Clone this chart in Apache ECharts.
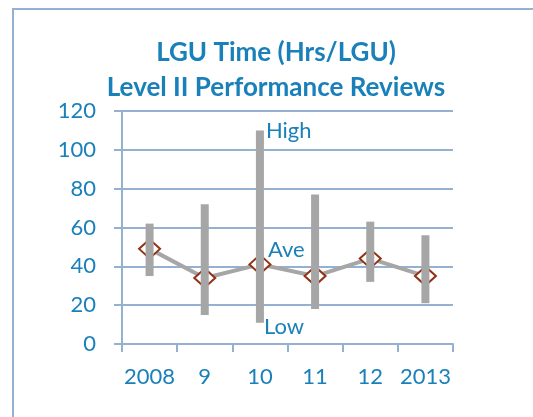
<!DOCTYPE html>
<html>
  <head>
    <meta charset="utf-8">
    <title>LGU Time</title>
    <style>
      html, body { margin: 0; padding: 0; background: #fff; }
      #main { width: 533px; height: 417px; }
    </style>
    <script src="https://cdn.jsdelivr.net/npm/echarts@6/dist/echarts.min.js"></script>
  </head>
  <body>
    <div id="main"></div>
    <script type="text/javascript">
      // data
      var years = ['2008', '9', '10', '11', '12', '2013'];
      var highs = [62, 72, 110, 77, 63, 56];
      var lows = [35, 15, 11, 18, 32, 21];
      var aves = [49, 34, 41, 35, 44, 35];
      var yTicks = [0, 120, 20]; // min, max, step

      var blue = '#1a80b9';
      var axisCol = '#95b1d2';
      var gray = '#a6a6a6';
      var labelIdx = 2;

      // stacked bars: invisible base up to low, then gray span low..high
      var spans = highs.map(function (h, i) { return h - lows[i]; });

      // only the "10" point carries a text label
      function onlyAt(arr, text, off) {
        return arr.map(function (v, i) {
          if (i !== labelIdx) return v;
          return {
            value: v,
            label: { show: true, formatter: text, position: 'right', distance: 2, offset: off,
                     color: blue, fontSize: 22, fontFamily: 'Lato',
                     textBorderWidth: 0, opacity: 1 }
          };
        });
      }

      var myChart = echarts.init(document.getElementById('main'));

      var option = {
        animation: false,
        textStyle: { fontFamily: 'Lato' },
        title: {
          text: 'LGU Time (Hrs/LGU)\nLevel II Performance Reviews',
          left: 271,
          textAlign: 'center',
          top: 30,
          textStyle: { color: blue, fontSize: 26, fontWeight: 'bold', lineHeight: 35, fontFamily: 'Lato' }
        },
        graphic: [{
          type: 'rect',
          shape: { x: 13, y: 9, width: 540, height: 430 },
          style: { fill: null, stroke: axisCol, lineWidth: 2 },
          silent: true
        }],
        grid: { left: 122, right: 80, top: 111, bottom: 73 },
        xAxis: {
          type: 'category',
          data: years,
          boundaryGap: true,
          axisLine: { lineStyle: { color: axisCol, width: 2 } },
          axisTick: { show: true, length: 8, lineStyle: { color: axisCol, width: 2 } },
          axisLabel: { color: blue, fontSize: 22, margin: 22, interval: 0 }
        },
        yAxis: {
          type: 'value',
          min: yTicks[0],
          max: yTicks[1],
          interval: yTicks[2],
          axisLine: { show: true, lineStyle: { color: axisCol, width: 2 } },
          axisTick: { show: true, length: 8, lineStyle: { color: axisCol, width: 2 } },
          splitLine: { lineStyle: { color: axisCol, width: 2 } },
          axisLabel: { color: blue, fontSize: 22, margin: 26 }
        },
        series: [
          {
            name: 'Ave',
            type: 'line',
            data: aves,
            z: 2,
            lineStyle: { color: gray, width: 4 },
            symbol: 'diamond',
            symbolSize: [21, 19],
            itemStyle: { color: '#fff', borderColor: '#8f3316', borderWidth: 2 }
          },
          {
            name: 'base',
            type: 'bar',
            stack: 'hl',
            data: lows,
            barWidth: 8,
            z: 3,
            itemStyle: { color: 'transparent' }
          },
          {
            name: 'range',
            type: 'bar',
            stack: 'hl',
            data: spans,
            barWidth: 8,
            z: 3,
            itemStyle: { color: gray }
          },
          {
            name: 'High',
            type: 'scatter',
            data: onlyAt(highs, 'High', [4, 0]),
            symbolSize: 0,
            itemStyle: { opacity: 1 },
            z: 5
          },
          {
            name: 'AveLabel',
            type: 'scatter',
            data: onlyAt(aves, 'Ave', [6, -14]),
            symbolSize: 0,
            itemStyle: { opacity: 1 },
            z: 5
          },
          {
            name: 'Low',
            type: 'scatter',
            data: onlyAt(lows, 'Low', [2, 4]),
            symbolSize: 0,
            itemStyle: { opacity: 1 },
            z: 5
          }
        ]
      };

      myChart.setOption(option);
    </script>
  </body>
</html>
